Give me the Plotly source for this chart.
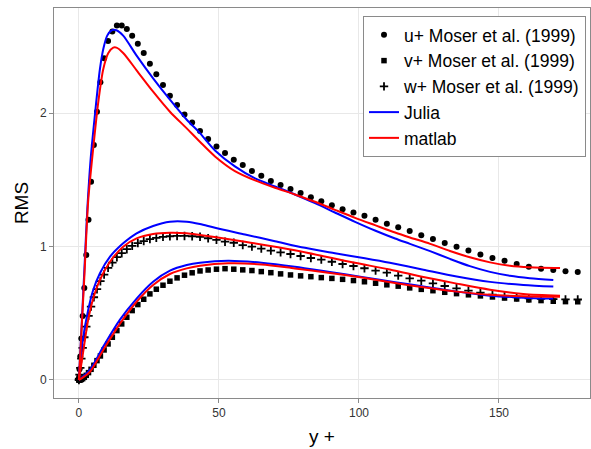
import plotly.graph_objects as go

# ---------------- data ----------------
# Moser et al. (1999) DNS, Re_tau = 180 (wall-normal positions in wall units)
moser_yplus = [0.0, 0.054, 0.215, 0.483, 0.858, 1.339, 1.928, 2.622, 3.423, 4.328,
               5.338, 6.452, 7.670, 8.990, 10.412, 11.935, 13.558, 15.281, 17.101, 19.019,
               21.032, 23.140, 25.341, 27.634, 30.018, 32.491, 35.052, 37.699, 40.431, 43.245,
               46.141, 49.117, 52.170, 55.298, 58.501, 61.776, 65.121, 68.534, 72.013, 75.556,
               79.161, 82.825, 86.547, 90.324, 94.154, 98.035, 101.963, 105.938, 109.956, 114.015,
               118.113, 122.247, 126.414, 130.627, 134.842, 139.093, 143.370, 147.668, 151.984, 156.316,
               160.661, 165.017, 169.380, 173.749, 178.120]

moser_u = [0.0, 0.02, 0.08, 0.175, 0.31, 0.48, 0.69, 0.936, 1.2, 1.485,
           1.76, 2.01, 2.23, 2.41, 2.54, 2.61, 2.655, 2.655, 2.63, 2.58,
           2.52, 2.45, 2.37, 2.29, 2.21, 2.13, 2.06, 1.99, 1.93, 1.865,
           1.805, 1.75, 1.70, 1.65, 1.61, 1.565, 1.53, 1.49, 1.46, 1.43,
           1.40, 1.37, 1.34, 1.31, 1.28, 1.255, 1.23, 1.20, 1.17, 1.144,
           1.116, 1.084, 1.056, 1.026, 0.999, 0.971, 0.941, 0.914, 0.894, 0.869,
           0.849, 0.834, 0.824, 0.814, 0.809]

moser_v = [0.0, 0.0, 0.0, 0.001, 0.004, 0.01, 0.02, 0.035, 0.055, 0.08,
           0.11, 0.145, 0.18, 0.225, 0.27, 0.32, 0.37, 0.42, 0.47, 0.52,
           0.565, 0.605, 0.645, 0.68, 0.71, 0.74, 0.765, 0.785, 0.803, 0.817,
           0.824, 0.83, 0.834, 0.83, 0.825, 0.82, 0.812, 0.804, 0.795, 0.787,
           0.78, 0.774, 0.767, 0.761, 0.754, 0.745, 0.736, 0.725, 0.713, 0.703,
           0.69, 0.679, 0.669, 0.657, 0.647, 0.638, 0.63, 0.622, 0.614, 0.607,
           0.6, 0.595, 0.59, 0.587, 0.586]

moser_w = [0.0, 0.01, 0.04, 0.09, 0.16, 0.24, 0.32, 0.40, 0.48, 0.55,
           0.62, 0.68, 0.74, 0.79, 0.84, 0.88, 0.92, 0.95, 0.98, 1.005,
           1.025, 1.04, 1.055, 1.065, 1.072, 1.077, 1.079, 1.079, 1.077, 1.073,
           1.062, 1.05, 1.036, 1.028, 1.011, 0.999, 0.984, 0.969, 0.956, 0.944,
           0.929, 0.914, 0.902, 0.886, 0.869, 0.854, 0.837, 0.819, 0.804, 0.782,
           0.762, 0.744, 0.724, 0.704, 0.687, 0.669, 0.654, 0.639, 0.628, 0.619,
           0.612, 0.608, 0.606, 0.604, 0.603]

# Julia solver profiles
julia_u_x = [0, 1, 2, 3, 4.2, 5.7, 7.5, 8.7, 10.1, 11.7, 13.4, 15.8, 20.6, 26.5, 32.5,
             38.5, 43.2, 48.6, 55.7, 62.9, 70, 77.1, 84.3, 91.4, 98.6, 105.7, 112.9,
             118.2, 125.4, 132.5, 139.6, 146.8, 153.9, 161, 169.4]
julia_u = [0, 0.42, 0.85, 1.28, 1.66, 1.985, 2.33, 2.48, 2.58, 2.62, 2.62, 2.58, 2.43,
           2.26, 2.10, 1.95, 1.85, 1.72, 1.60, 1.51, 1.45, 1.39, 1.325, 1.255, 1.185, 1.12,
           1.06, 1.02, 0.965, 0.907, 0.853, 0.81, 0.781, 0.763, 0.749]

julia_w_x = [0, 1.2, 3.3, 5.1, 7.5, 11.1, 15.8, 20.6, 26.5, 32.5, 38.5, 43.2, 48.6, 59.3,
             70, 80.7, 91.4, 102.1, 111, 123, 134.9, 146.8, 158.7, 169.4]
julia_w = [0, 0.275, 0.524, 0.674, 0.8, 0.924, 1.024, 1.099, 1.154, 1.186, 1.186, 1.169,
           1.14, 1.09, 1.04, 0.99, 0.95, 0.912, 0.878, 0.826, 0.775, 0.735, 0.712, 0.70]

julia_v_x = [0, 3.9, 8.7, 14.6, 20.6, 26.5, 32.5, 38.5, 43.2, 53.3, 65.2, 77.1, 89, 101,
             112.9, 123, 134.9, 146.8, 158.7, 169.4]
julia_v = [0, 0.075, 0.25, 0.45, 0.61, 0.736, 0.819, 0.861, 0.879, 0.894, 0.879, 0.849,
           0.811, 0.772, 0.733, 0.70, 0.662, 0.632, 0.617, 0.61]

# matlab solver profiles
matlab_u_x = [0, 1, 2, 3.3, 5.1, 6.9, 8.7, 10.5, 12.25, 13.4, 15.8, 20.6, 26.5, 32.5, 38.5,
              43.2, 48.6, 55.7, 62.9, 70, 77.1, 84.3, 91.4, 98.6, 105.7, 112.9, 118.2, 125.4,
              132.5, 139.6, 146.8, 153.9, 161, 171.8]
matlab_u = [0, 0.40, 0.80, 1.34, 1.735, 2.08, 2.33, 2.45, 2.49, 2.49, 2.45, 2.32, 2.16, 2.01,
            1.885, 1.785, 1.675, 1.565, 1.495, 1.44, 1.39, 1.335, 1.275, 1.215, 1.16, 1.105,
            1.068, 1.02, 0.966, 0.919, 0.881, 0.856, 0.845, 0.839]

matlab_w_x = [0, 1.8, 3.3, 5.1, 7.5, 11.1, 15.8, 20.6, 26.5, 32.5, 38.5, 43.2, 59.3, 77.1,
              98, 111, 123, 134.9, 146.8, 158.7, 171.8]
matlab_w = [0, 0.25, 0.45, 0.61, 0.75, 0.886, 0.999, 1.061, 1.094, 1.103, 1.099, 1.086,
            1.036, 0.972, 0.88, 0.828, 0.772, 0.722, 0.676, 0.645, 0.632]

matlab_v_x = [0, 3.9, 8.7, 14.6, 20.6, 26.5, 32.5, 38.5, 43.2, 53.3, 65.2, 77.1, 89, 101,
              112.9, 123, 134.9, 146.8, 158.7, 171.8]
matlab_v = [0, 0.06, 0.225, 0.42, 0.586, 0.712, 0.794, 0.836, 0.856, 0.874, 0.866, 0.836,
            0.804, 0.767, 0.726, 0.694, 0.662, 0.638, 0.628, 0.624]

x_ticks = [0, 50, 100, 150]
y_ticks = [0, 1, 2]

# ---------------- figure ----------------
FONT = "Liberation Sans, Arial, Helvetica, sans-serif"


def join(*pairs):
    xs, ys = [], []
    for px, py in pairs:
        xs += list(px) + [None]
        ys += list(py) + [None]
    return xs, ys


fig = go.Figure()
fig.add_trace(go.Scatter(x=moser_yplus, y=moser_u, mode="markers", name="u+ Moser et al. (1999)",
                         marker=dict(symbol="circle", size=6, color="black")))
fig.add_trace(go.Scatter(x=moser_yplus, y=moser_v, mode="markers", name="v+ Moser et al. (1999)",
                         marker=dict(symbol="square", size=5.5, color="black")))
fig.add_trace(go.Scatter(x=moser_yplus, y=moser_w, mode="markers", name="w+ Moser et al. (1999)",
                         marker=dict(symbol="cross-thin", size=6, color="black",
                                     line=dict(width=1.8, color="black"))))

jx, jy = join((julia_u_x, julia_u), (julia_w_x, julia_w), (julia_v_x, julia_v))
fig.add_trace(go.Scatter(x=jx, y=jy, mode="lines", name="Julia",
                         line=dict(color="#0000ff", width=2, shape="spline", smoothing=0.8)))
mx, my = join((matlab_u_x, matlab_u), (matlab_w_x, matlab_w), (matlab_v_x, matlab_v))
fig.add_trace(go.Scatter(x=mx, y=my, mode="lines", name="matlab",
                         line=dict(color="#ff0000", width=2, shape="spline", smoothing=0.8)))

axis_common = dict(showgrid=True, gridcolor="#e8e8e8", gridwidth=1, zeroline=False,
                   showline=True, mirror=True, linecolor="#8a8a8a", linewidth=1,
                   ticks="outside", ticklen=4, tickcolor="#8a8a8a", automargin=False,
                   tickfont=dict(family=FONT, size=12, color="#333333"))

fig.update_layout(
    width=591, height=449,
    margin=dict(l=54, r=1, t=8, b=51),
    paper_bgcolor="white", plot_bgcolor="white",
    font=dict(family=FONT, color="black"),
    xaxis=dict(range=[-8.9, 182.5], tickvals=x_ticks,
               title=dict(text="y +", font=dict(family=FONT, size=19, color="black"), standoff=10),
               **axis_common),
    yaxis=dict(range=[-0.135, 2.787], tickvals=y_ticks,
               title=dict(text="RMS", font=dict(family=FONT, size=19, color="black"), standoff=6),
               **axis_common),
    legend=dict(x=0.5765, y=0.9795, xanchor="left", yanchor="top",
                bgcolor="white", bordercolor="#8a8a8a", borderwidth=1,
                font=dict(family=FONT, size=17.5, color="black"),
                tracegroupgap=0, itemwidth=30),
    showlegend=True,
)

fig.write_html("out.html")
